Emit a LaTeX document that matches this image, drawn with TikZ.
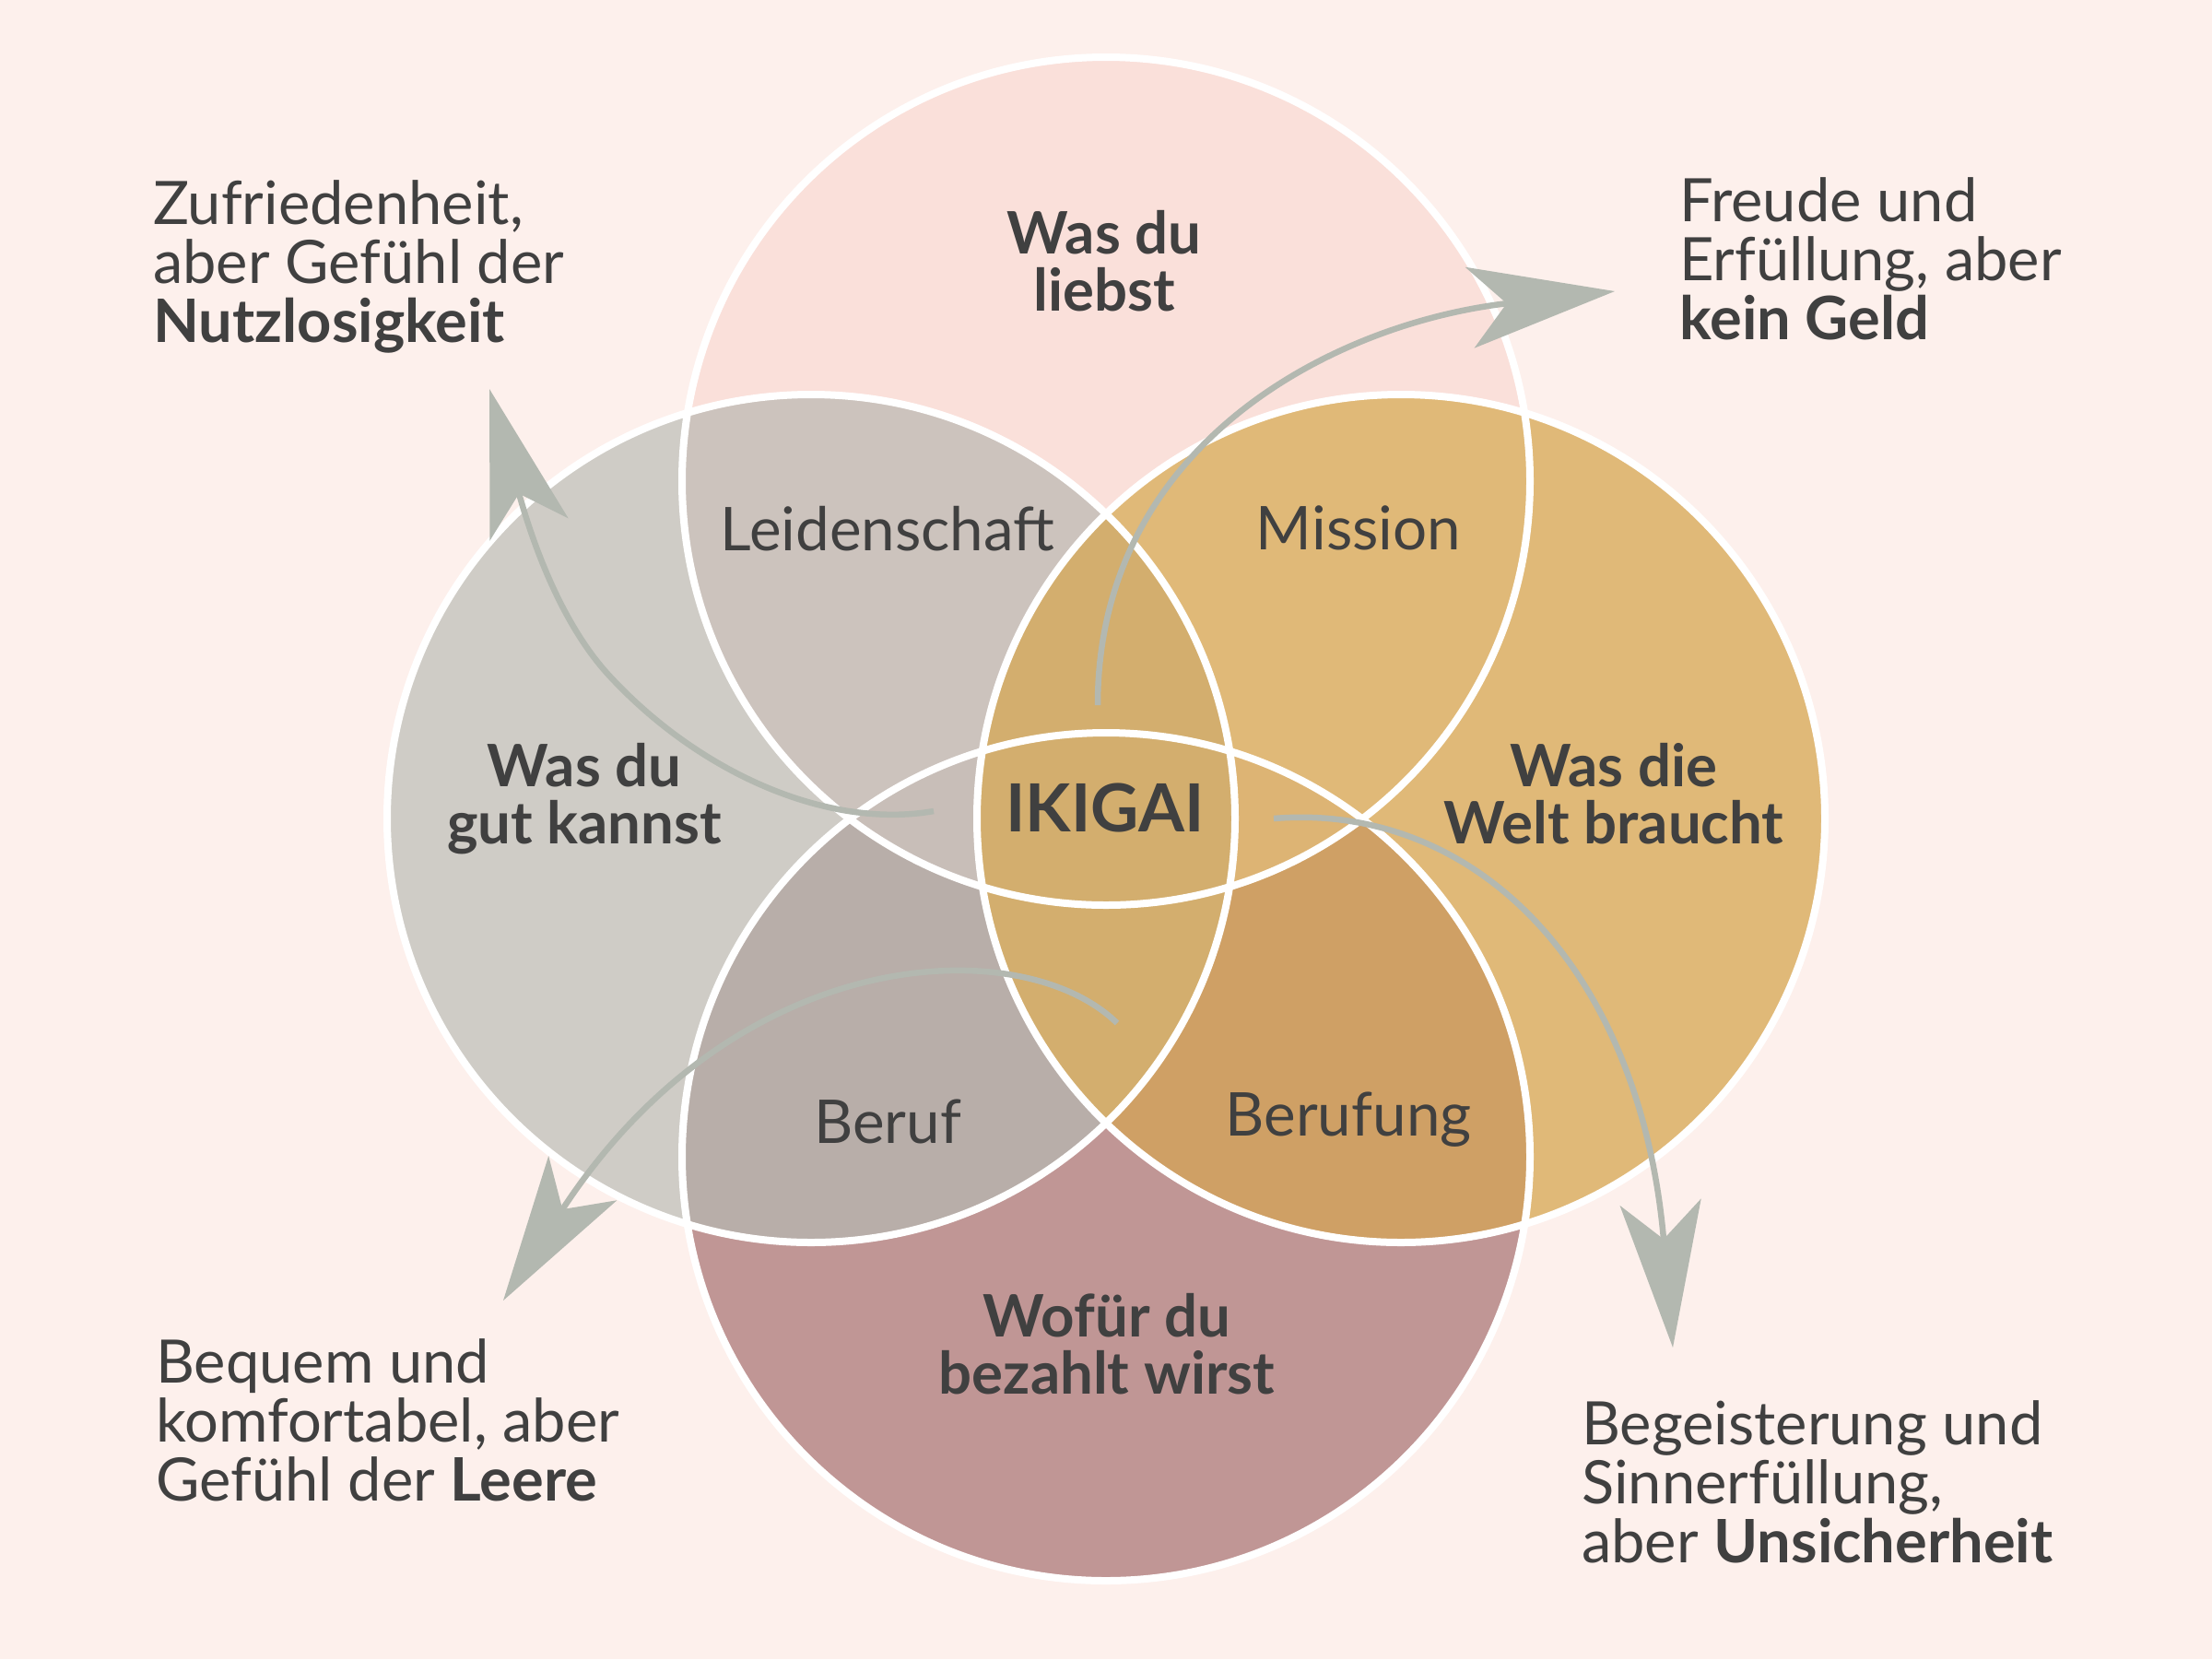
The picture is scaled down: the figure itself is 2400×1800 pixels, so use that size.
\documentclass[tikz,border=0pt]{standalone}
\usepackage{fontspec}
\setmainfont{Lato}
\usetikzlibrary{arrows.meta}
\definecolor{bg}{HTML}{FDF0EC}
\definecolor{ctop}{HTML}{FAE0DA}
\definecolor{cleft}{HTML}{CFCCC6}
\definecolor{cright}{HTML}{E0B978}
\definecolor{cbot}{HTML}{C09695}
\definecolor{cleid}{HTML}{CCC3BD}
\definecolor{cberuf}{HTML}{B8AEA9}
\definecolor{cberufung}{HTML}{CFA065}
\definecolor{ccenter}{HTML}{D3AE6E}
\definecolor{cwingl}{HTML}{C8BEB8}
\definecolor{cwingr}{HTML}{DDB474}
\definecolor{ink}{HTML}{404040}
\definecolor{arrowc}{HTML}{B3B8B0}
\begin{document}
\begin{tikzpicture}[x=1pt,y=-1pt,
  txt/.style={text=ink, inner sep=0pt, font=\fontsize{65}{64}\selectfont, align=left, anchor=base west},
  lbl/.style={text=ink, inner sep=0pt, font=\bfseries\fontsize{63.5}{62}\selectfont, align=center, anchor=base},
  reg/.style={text=ink, inner sep=0pt, font=\fontsize{65.5}{64}\selectfont, anchor=base},
  arr/.style={draw=arrowc, line width=6.5pt, -{Stealth[length=158pt,width=88pt,inset=40pt]}},
  ring/.style={draw=white, line width=8pt}]
\fill[bg] (0,0) rectangle (2400,1800);
\useasboundingbox (0,0) rectangle (2400,1800);
\coordinate (cT) at (1200,522);
\coordinate (cL) at (880,888);
\coordinate (cR) at (1520,888);
\coordinate (cB) at (1200,1255);
% base circles
\fill[ctop] (cT) circle[radius=460pt];
\fill[cleft] (cL) circle[radius=460pt];
\fill[cright] (cR) circle[radius=460pt];
\fill[cbot] (cB) circle[radius=460pt];
% top & left: Leidenschaft
\begin{scope}
  \clip (cT) circle[radius=460pt];
  \fill[cleid] (cL) circle[radius=460pt];
  \fill[cright] (cR) circle[radius=460pt];
\end{scope}
% left & bottom: Beruf
\begin{scope}
  \clip (cL) circle[radius=460pt];
  \fill[cberuf] (cB) circle[radius=460pt];
\end{scope}
% right & bottom: Berufung
\begin{scope}
  \clip (cR) circle[radius=460pt];
  \fill[cberufung] (cB) circle[radius=460pt];
\end{scope}
% wings of the horizontal lens
\begin{scope}
  \clip (cT) circle[radius=460pt];
  \clip (cB) circle[radius=460pt];
  \fill[cwingl] (cL) circle[radius=460pt];
  \fill[cwingr] (cR) circle[radius=460pt];
\end{scope}
% centre vertical lens
\begin{scope}
  \clip (cL) circle[radius=460pt];
  \fill[ccenter] (cR) circle[radius=460pt];
\end{scope}
% white rings
\draw[ring] (cT) circle[radius=460pt];
\draw[ring] (cL) circle[radius=460pt];
\draw[ring] (cR) circle[radius=460pt];
\draw[ring] (cB) circle[radius=460pt];
% arrows
\coordinate (aS) at (1191,765);
\coordinate (aE) at (1752,316);
\coordinate (bS) at (1013,880);
\coordinate (bM) at (661,733);
\coordinate (bE) at (531,422);
\coordinate (cS) at (1212,1110);
\coordinate (cE) at (546,1411);
\coordinate (dS) at (1382,888);
\coordinate (dE) at (1815,1462);
\draw[arr] (aS) .. controls (1191,480) and (1450,350) .. (aE);
\draw[arr] (bS) .. controls (900,900) and (760,840) .. (bM) .. controls (600,667) and (570,560) .. (bE);
\draw[arr] (cS) .. controls (1110,1010) and (800,1020) .. (cE);
\draw[arr] (dS) .. controls (1600,870) and (1780,1050) .. (dE);
% circle labels (anchor = baseline of last line)
\node[lbl] (lT) at (1198,337) {Was du\\liebst};
\node[lbl] (lL) at (634,915) {Was du\\gut kannst};
\node[lbl] (lR) at (1751,915) {Was die\\Welt braucht};
\node[lbl] (lB) at (1201,1512) {Wofür du\\bezahlt wirst};
% region labels
\node[reg] (leid) at (963,597) {Leidenschaft};
\node[reg] (miss) at (1474,596) {Mission};
\node[reg] (beruf) at (963,1240) {Beruf};
\node[reg] (berufung) at (1463,1232) {Berufung};
\node[reg, font=\bfseries\fontsize{72}{74}\selectfont] (ikigai) at (1199,902) {IKIGAI};
% outer texts (anchor = baseline of last line)
\node[txt] (tl) at (166,371) {Zufriedenheit,\\aber Gefühl der\\\textbf{Nutzlosigkeit}};
\node[txt] (tr) at (1822,368) {Freude und\\Erfüllung, aber\\\textbf{kein Geld}};
\node[txt] (bl) at (169,1628) {Bequem und\\komfortabel, aber\\Gefühl der \textbf{Leere}};
\node[txt] (br) at (1716,1695) {Begeisterung und\\Sinnerfüllung,\\aber \textbf{Unsicherheit}};
\end{tikzpicture}
\end{document}
